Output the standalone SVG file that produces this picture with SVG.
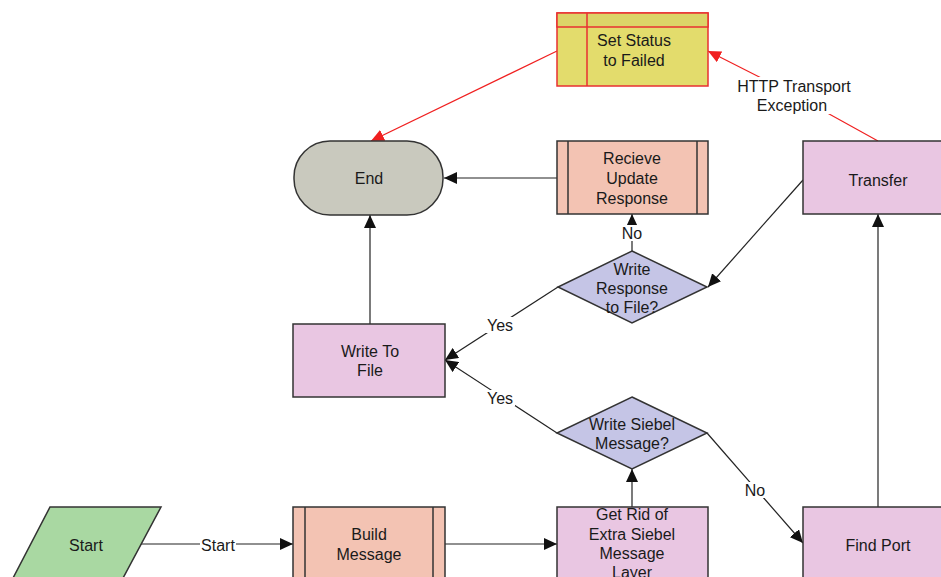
<svg xmlns="http://www.w3.org/2000/svg" width="941" height="577" viewBox="0 0 941 577">
<style>
text{font-family:"Liberation Sans",Arial,sans-serif;font-size:16px;fill:#1a1a1a;text-anchor:middle}
.node{stroke:#333;stroke-width:1.5}
.pink{fill:#e9c6e2}
.salmon{fill:#f3c3b3}
.lav{fill:#c5c5e6}
.conn{fill:none;stroke:#222;stroke-width:1.2}
.red{fill:none;stroke:#f02020;stroke-width:1.2}
.lbl{fill:#fff}
</style>
<defs>
<marker id="ah" markerUnits="userSpaceOnUse" markerWidth="14" markerHeight="12" refX="13" refY="6" orient="auto">
<path d="M0,0 L13,6 L0,12 z" fill="#111"/>
</marker>
<marker id="ahr" markerUnits="userSpaceOnUse" markerWidth="14" markerHeight="12" refX="13" refY="6" orient="auto">
<path d="M0,0 L13,6 L0,12 z" fill="#f02020"/>
</marker>
</defs>
<rect width="941" height="577" fill="#fff"/>
<g id="connectors">
<line class="red" x1="557" y1="51" x2="371" y2="141" marker-end="url(#ahr)"/>
<polyline class="red" points="878,141 793,94 708,51" marker-end="url(#ahr)"/>
<line class="conn" x1="557" y1="178" x2="444" y2="178" marker-end="url(#ah)"/>
<line class="conn" x1="370" y1="324" x2="370" y2="215" marker-end="url(#ah)"/>
<line class="conn" x1="632" y1="251" x2="632" y2="214" marker-end="url(#ah)"/>
<line class="conn" x1="803" y1="180" x2="708" y2="287" marker-end="url(#ah)"/>
<line class="conn" x1="558" y1="287" x2="445" y2="360" marker-end="url(#ah)"/>
<line class="conn" x1="557" y1="433" x2="445" y2="360" marker-end="url(#ah)"/>
<line class="conn" x1="707" y1="433" x2="803" y2="543" marker-end="url(#ah)"/>
<line class="conn" x1="632" y1="507" x2="632" y2="469" marker-end="url(#ah)"/>
<line class="conn" x1="878" y1="507" x2="878" y2="214" marker-end="url(#ah)"/>
<line class="conn" x1="141" y1="544" x2="293" y2="544" marker-end="url(#ah)"/>
<line class="conn" x1="445" y1="544" x2="557" y2="544" marker-end="url(#ah)"/>
<rect class="lbl" x="731" y="77" width="126" height="37"/>
<text x="794" y="92">HTTP Transport</text>
<text x="792" y="111">Exception</text>
<rect class="lbl" x="621" y="225" width="22" height="16"/>
<text x="632" y="239">No</text>
<rect class="lbl" x="485" y="317" width="30" height="16"/>
<text x="500" y="331">Yes</text>
<rect class="lbl" x="485" y="390" width="30" height="16"/>
<text x="500" y="404">Yes</text>
<rect class="lbl" x="744" y="482" width="22" height="16"/>
<text x="755" y="496">No</text>
<rect class="lbl" x="200" y="537" width="36" height="16"/>
<text x="218" y="551">Start</text>
</g>
<g id="set-status">
<rect x="557" y="13" width="151" height="73" fill="#e3dc6c" stroke="#e83030" stroke-width="1.5"/>
<rect x="557" y="13" width="151" height="14" fill="#dcd468" stroke="#e83030" stroke-width="1.5"/>
<line x1="587" y1="13" x2="587" y2="86" stroke="#e83030" stroke-width="1.5"/>
<text x="634" y="46">Set Status</text>
<text x="634" y="66">to Failed</text>
</g>
<g id="end">
<rect class="node" x="294" y="141" width="149" height="74" rx="36" fill="#c9c9be"/>
<text x="369" y="184">End</text>
</g>
<g id="recieve">
<rect class="node salmon" x="557" y="141" width="151" height="73"/>
<line class="node" x1="568" y1="141" x2="568" y2="214"/>
<line class="node" x1="697" y1="141" x2="697" y2="214"/>
<text x="632" y="164">Recieve</text>
<text x="632" y="184">Update</text>
<text x="632" y="204">Response</text>
</g>
<g id="transfer">
<rect class="node pink" x="803" y="141" width="152" height="73"/>
<text x="878" y="186">Transfer</text>
</g>
<g id="write-response">
<polygon class="node lav" points="632,251 707,287 632,323 558,287"/>
<text x="632" y="275">Write</text>
<text x="632" y="294">Response</text>
<text x="632" y="313">to File?</text>
</g>
<g id="write-to-file">
<rect class="node pink" x="293" y="324" width="152" height="73"/>
<text x="370" y="357">Write To</text>
<text x="370" y="376">File</text>
</g>
<g id="write-siebel">
<polygon class="node lav" points="632,397 707,433 632,469 557,433"/>
<text x="632" y="430">Write Siebel</text>
<text x="632" y="449">Message?</text>
</g>
<g id="start">
<polygon class="node" points="50,507 161,507 122,580 12,580" fill="#a9d8a2"/>
<text x="86" y="551">Start</text>
</g>
<g id="build-message">
<rect class="node salmon" x="293" y="507" width="152" height="73"/>
<line class="node" x1="305" y1="507" x2="305" y2="580"/>
<line class="node" x1="433" y1="507" x2="433" y2="580"/>
<text x="369" y="540">Build</text>
<text x="369" y="560">Message</text>
</g>
<g id="get-rid">
<rect class="node pink" x="557" y="507" width="151" height="73"/>
<text x="632" y="520">Get Rid of</text>
<text x="632" y="540">Extra Siebel</text>
<text x="632" y="559">Message</text>
<text x="632" y="578">Layer</text>
</g>
<g id="find-port">
<rect class="node pink" x="803" y="507" width="152" height="73"/>
<text x="878" y="551">Find Port</text>
</g>
</svg>
